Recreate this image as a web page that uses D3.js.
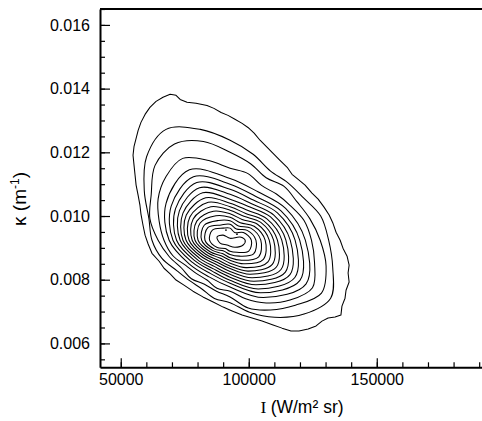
<!DOCTYPE html>
<html><head><meta charset="utf-8">
<script src="https://cdn.jsdelivr.net/npm/d3@7"></script>
<style>
html,body{margin:0;padding:0;background:#fff;}
svg{display:block;}
</style></head><body>
<svg id="chart" width="482" height="421"></svg>
<script>
// ---- data ----
const xTicks = [50000, 100000, 150000];
const yTicks = [0.006, 0.008, 0.010, 0.012, 0.014, 0.016];
const xTitle = "(W/m² sr)";
const yTitle = "κ (m";

const contour01 = [[66500,0.01373],[69300,0.01382],[71600,0.01379],[73200,0.01366],[75900,0.01357],[79400,0.01354],[83700,0.01347],[86400,0.01338],[89200,0.01325],[91900,0.01316],[94600,0.01304],[97400,0.01291],[99700,0.01278],[102100,0.01260],[104400,0.01238],[107100,0.01216],[109500,0.01197],[112200,0.01175],[115000,0.01153],[116900,0.01131],[119300,0.01115],[122000,0.01097],[124700,0.01072],[127100,0.01053],[129400,0.01028],[131400,0.01003],[132900,0.00977],[134100,0.00949],[135700,0.00924],[136800,0.00899],[138400,0.00874],[139200,0.00846],[138800,0.00821],[139200,0.00793],[138000,0.00767],[137600,0.00742],[136400,0.00717],[136000,0.00689],[133700,0.00683],[131000,0.00680],[128600,0.00670],[126300,0.00655],[123200,0.00645],[119600,0.00639],[116500,0.00639],[113000,0.00648],[109500,0.00658],[105200,0.00670],[101300,0.00680],[97400,0.00689],[93500,0.00702],[90000,0.00714],[86100,0.00730],[82100,0.00746],[78200,0.00764],[74700,0.00783],[71600,0.00799],[69300,0.00818],[66900,0.00836],[65000,0.00858],[62200,0.00883],[60700,0.00912],[59500,0.00940],[58700,0.00971],[57900,0.01006],[57500,0.01034],[56800,0.01065],[56000,0.01097],[55600,0.01128],[55200,0.01159],[54800,0.01191],[55200,0.01219],[56000,0.01244],[56800,0.01269],[57900,0.01294],[59500,0.01319],[61400,0.01341],[63800,0.01360]];
const contour02 = [[131200,0.00924],[128100,0.01000],[121400,0.01057],[115200,0.01105],[108400,0.01142],[101700,0.01194],[92700,0.01238],[81100,0.01272],[67700,0.01272],[60100,0.01186],[59200,0.01079],[61000,0.00992],[62200,0.00924],[66100,0.00867],[72000,0.00828],[76900,0.00797],[81700,0.00771],[86600,0.00741],[92700,0.00728],[100300,0.00698],[110100,0.00682],[121600,0.00692],[132000,0.00742],[132800,0.00838]];
const contour03 = [[127900,0.00924],[123900,0.00991],[118800,0.01045],[113800,0.01093],[106800,0.01120],[100700,0.01164],[92700,0.01200],[82300,0.01234],[71000,0.01226],[63400,0.01159],[61900,0.01067],[61400,0.00991],[64600,0.00924],[68900,0.00873],[73800,0.00836],[77600,0.00803],[82700,0.00786],[87400,0.00764],[92700,0.00746],[99800,0.00711],[108500,0.00705],[118200,0.00720],[128400,0.00758],[130200,0.00843]];
const contour04 = [[124500,0.00924],[121600,0.00986],[116200,0.01033],[110800,0.01069],[105000,0.01096],[99700,0.01133],[92700,0.01150],[84400,0.01174],[74200,0.01181],[67700,0.01124],[64600,0.01054],[65000,0.00984],[66900,0.00924],[70300,0.00876],[75500,0.00844],[79600,0.00819],[83700,0.00799],[87600,0.00773],[92700,0.00764],[98800,0.00740],[106800,0.00727],[116100,0.00736],[124900,0.00775],[125700,0.00853]];
const contour05 = [[122100,0.00924],[114400,0.01024],[103600,0.01076],[92700,0.01118],[76800,0.01145],[67700,0.01040],[68900,0.00924],[76700,0.00850],[84500,0.00809],[92700,0.00777],[105700,0.00744],[122400,0.00787]];
const contour06 = [[119900,0.00924],[112600,0.01016],[102600,0.01062],[92700,0.01100],[78400,0.01123],[69700,0.01031],[70400,0.00924],[77900,0.00855],[85100,0.00819],[92700,0.00789],[104600,0.00759],[120000,0.00798]];
const contour07 = [[118100,0.00924],[111200,0.01010],[101800,0.01050],[92700,0.01084],[79700,0.01105],[71400,0.01023],[71800,0.00924],[78900,0.00860],[85700,0.00827],[92700,0.00798],[103700,0.00771],[118000,0.00807]];
const contour08 = [[116200,0.00924],[109800,0.01003],[100900,0.01039],[92700,0.01068],[80800,0.01089],[72900,0.01016],[73200,0.00924],[79800,0.00864],[86200,0.00834],[92700,0.00808],[102800,0.00784],[116100,0.00816]];
const contour09 = [[114500,0.00924],[108500,0.00997],[100200,0.01029],[92700,0.01053],[82000,0.01073],[74300,0.01009],[74300,0.00924],[80700,0.00868],[86700,0.00841],[92700,0.00817],[102000,0.00795],[114300,0.00824]];
const contour10 = [[112900,0.00924],[107100,0.00991],[99500,0.01018],[92700,0.01040],[83200,0.01057],[75600,0.01003],[75500,0.00924],[81600,0.00872],[87300,0.00848],[92700,0.00826],[101200,0.00806],[112600,0.00832]];
const contour11 = [[111200,0.00924],[105900,0.00985],[98800,0.01008],[92700,0.01029],[84200,0.01043],[77000,0.00997],[76700,0.00924],[82400,0.00876],[87700,0.00855],[92700,0.00835],[100400,0.00817],[110800,0.00840]];
const contour12 = [[109700,0.00924],[104700,0.00980],[98100,0.00999],[92700,0.01018],[85200,0.01029],[78300,0.00991],[77900,0.00924],[83200,0.00880],[88200,0.00861],[92700,0.00843],[99700,0.00827],[109200,0.00848]];
const contour13 = [[108000,0.00924],[103400,0.00974],[97400,0.00989],[92700,0.01007],[86200,0.01015],[79700,0.00984],[79000,0.00924],[84100,0.00884],[88700,0.00868],[92700,0.00852],[98900,0.00838],[107500,0.00856]];
const contour14 = [[106400,0.00924],[102100,0.00968],[96700,0.00979],[92700,0.00996],[87200,0.01001],[81000,0.00978],[80200,0.00924],[84900,0.00888],[89200,0.00875],[92700,0.00861],[98000,0.00850],[105700,0.00864]];
const contour15 = [[104700,0.00924],[100800,0.00962],[96000,0.00969],[92700,0.00985],[88200,0.00986],[82600,0.00971],[81600,0.00924],[85800,0.00892],[89700,0.00882],[92700,0.00869],[97200,0.00861],[103900,0.00872]];
const contour16 = [[102800,0.00924],[99400,0.00955],[95200,0.00959],[92700,0.00974],[89200,0.00972],[84100,0.00964],[82900,0.00924],[86700,0.00896],[90200,0.00890],[92700,0.00879],[96300,0.00874],[101900,0.00881]];
const contour17 = [[101000,0.00924],[97900,0.00948],[94500,0.00948],[92700,0.00962],[90000,0.00962],[85800,0.00956],[84700,0.00924],[87700,0.00901],[90800,0.00898],[92700,0.00889],[95400,0.00886],[100000,0.00890]];
const contour18 = [[87600,0.00934],[90000,0.00940],[92700,0.00930],[96600,0.00934],[98600,0.00924],[97800,0.00909],[94600,0.00902],[91500,0.00909],[88800,0.00915]];
const peakDots = [[91100,0.00956],[95400,0.00943]];

const outerContours = [contour01];
const innerContours = [contour02,contour03,contour04,contour05,contour06,contour07,contour08,contour09,contour10,contour11,contour12,contour13,contour14,contour15,contour16,contour17,contour18];

// ---- chart ----
const svg = d3.select("#chart");
const FONT = '"Liberation Sans", Arial, Helvetica, sans-serif';
const x = d3.scaleLinear().domain([41900, 191100]).range([100, 482]);
const y = d3.scaleLinear().domain([0.00525, 0.0165]).range([367.3, 9]);

const lineJag = d3.line().x(d => x(d[0])).y(d => y(d[1])).curve(d3.curveLinearClosed);
const lineSmooth = d3.line().x(d => x(d[0])).y(d => y(d[1])).curve(d3.curveCatmullRomClosed.alpha(0.5));

const gc = svg.append("g").attr("fill", "none").attr("stroke", "#000").attr("stroke-width", 1.05).attr("stroke-linejoin", "round");
gc.selectAll("path.o").data(outerContours).join("path").attr("class", "o").attr("d", lineJag);
gc.selectAll("path.i").data(innerContours).join("path").attr("class", "i").attr("d", lineSmooth);
svg.append("g").selectAll("circle").data(peakDots).join("circle")
  .attr("cx", d => x(d[0])).attr("cy", d => y(d[1])).attr("r", 0.9).attr("fill", "#000");

// axes
const xMinor = d3.range(50000, 190001, 10000);
const yMinor = d3.range(0.0055, 0.01651, 0.0005);
const y0 = y.range()[0];

const gxMinor = svg.append("g").attr("transform", `translate(0,${y0})`)
  .call(d3.axisBottom(x).tickValues(xMinor).tickSize(-5).tickSizeOuter(0).tickFormat(""));
gxMinor.select(".domain").remove();
const gx = svg.append("g").attr("transform", `translate(0,${y0})`)
  .call(d3.axisBottom(x).tickValues(xTicks).tickSize(-9).tickSizeOuter(0).tickPadding(6).tickFormat(d3.format("d")));
gx.attr("font-size", 16).attr("font-family", FONT);
gx.select(".domain").attr("stroke-width", 2);

const gyMinor = svg.append("g").attr("transform", `translate(${x.range()[0]},0)`)
  .call(d3.axisLeft(y).tickValues(yMinor).tickSize(-5).tickSizeOuter(0).tickFormat(""));
gyMinor.select(".domain").remove();
const gy = svg.append("g").attr("transform", `translate(${x.range()[0]},0)`)
  .call(d3.axisLeft(y).tickValues(yTicks).tickSize(-10).tickSizeOuter(0).tickPadding(10).tickFormat(d3.format(".3f")));
gy.attr("font-size", 16).attr("font-family", FONT);
gy.select(".domain").attr("stroke-width", 2);
svg.selectAll(".tick line").attr("stroke-width", 1.2);

// top frame line
svg.append("line").attr("x1", x.range()[0]).attr("x2", x.range()[1])
  .attr("y1", y.range()[1]).attr("y2", y.range()[1]).attr("stroke", "#000").attr("stroke-width", 2);

// titles
const tx = svg.append("text").attr("x", 302).attr("y", 413).attr("text-anchor", "middle")
  .attr("font-size", 17.5).attr("font-family", FONT);
tx.append("tspan").attr("font-family", '"Liberation Serif", "Times New Roman", serif').text("I ");
tx.append("tspan").text(xTitle);

const ty = svg.append("text").attr("transform", "translate(26,199) rotate(-90)").attr("text-anchor", "middle")
  .attr("font-size", 19).attr("font-family", FONT);
ty.append("tspan").text(yTitle);
ty.append("tspan").attr("font-size", 12).attr("dy", -7).text("-1");
ty.append("tspan").attr("dy", 7).text(")");
</script>
</body></html>
